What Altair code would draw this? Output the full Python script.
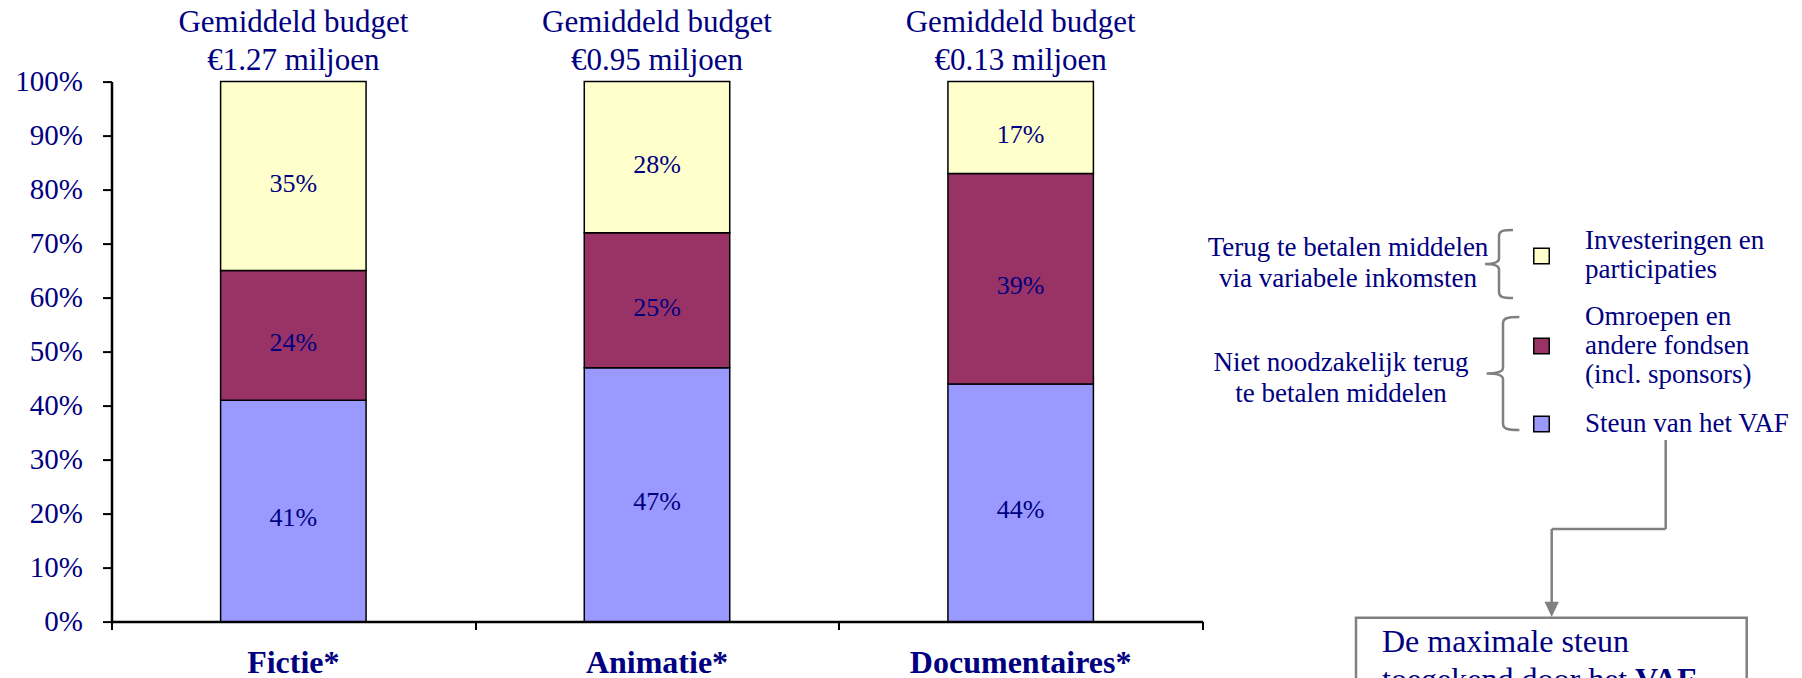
import altair as alt
import pandas as pd

# ---------------- data ----------------
categories = ["Fictie*", "Animatie*", "Documentaires*"]
budgets = [1.27, 0.95, 0.13]  # gemiddeld budget, miljoen euro

series = [
    "Investeringen en participaties",
    "Omroepen en andere fondsen (incl. sponsors)",
    "Steun van het VAF",
]
series_lines = [
    ["Investeringen en", "participaties"],
    ["Omroepen en", "andere fondsen", "(incl. sponsors)"],
    ["Steun van het VAF"],
]
series_colors = ["#FFFFCC", "#993366", "#9999FF"]

steun = [41, 47, 44]
omroepen = [24, 25, 39]
investeringen = [35, 28, 17]

y_ticks = [0, 10, 20, 30, 40, 50, 60, 70, 80, 90, 100]

group_labels = [
    ["Terug te betalen middelen", "via variabele inkomsten"],
    ["Niet noodzakelijk terug", "te betalen middelen"],
]
box_line1 = "De maximale steun"
box_line2 = "toegekend door het"
box_bold = "VAF"

# ---------------- tables ----------------
stack_order = [steun, omroepen, investeringen]
stack_names = [series[2], series[1], series[0]]
rows = []
for i, c in enumerate(categories):
    for k, (name, vals) in enumerate(zip(stack_names, stack_order)):
        rows.append({"category": c, "idx": i, "series": name, "k": k, "value": vals[i]})
df = pd.DataFrame(rows)
cat_df = pd.DataFrame({"category": categories, "idx": range(len(categories)), "budget": budgets})
one = pd.DataFrame({"a": [0]})

NAVY = "#000080"
GRAY = "#808080"
FONT = "Liberation Serif"

W, H = 1091, 540

xscale = alt.Scale(domain=[0, len(categories)], nice=False, zero=False)
yscale = alt.Scale(domain=[0, 100], nice=False)
cscale = alt.Scale(domain=series, range=series_colors)

xaxis = alt.Axis(values=list(range(len(categories) + 1)), labels=False, title=None, grid=False,
                 tickSize=8, tickWidth=2, tickColor="black", domainColor="black", domainWidth=2.5)
yaxis = alt.Axis(values=y_ticks, labelExpr="datum.value + '%'", title=None, grid=False,
                 labelFont=FONT, labelFontSize=29, labelColor=NAVY, labelPadding=20,
                 tickSize=9, tickWidth=2, tickColor="black", domainColor="black", domainWidth=2.5)

base = alt.Chart(df).transform_stack(
    stack="value", as_=["y0", "y1"], groupby=["category"], sort=[alt.SortField("k", order="ascending")]
).transform_calculate(x0="datum.idx + 0.3", x1="datum.idx + 0.7", pos="datum.idx + 0.5",
                      mid="(datum.y0 + datum.y1) / 2", label="datum.value + '%'")

bars = base.mark_bar(stroke="black", strokeWidth=1.5).encode(
    x=alt.X("x0:Q", scale=xscale, axis=xaxis),
    x2="x1:Q",
    y=alt.Y("y0:Q", scale=yscale, axis=yaxis),
    y2="y1:Q",
    color=alt.Color("series:N", scale=cscale, legend=None),
)

bar_text = base.mark_text(font=FONT, fontSize=26, color=NAVY, baseline="middle", dy=7.5).encode(
    x=alt.X("pos:Q", scale=xscale, axis=xaxis),
    y=alt.Y("mid:Q", scale=yscale, axis=yaxis),
    text=alt.Text("label:N"),
)

cat_base = alt.Chart(cat_df).transform_calculate(pos="datum.idx + 0.5")
cat_text = cat_base.mark_text(font=FONT, fontSize=32, fontWeight="bold", color=NAVY,
                              baseline="alphabetic").encode(
    x=alt.X("pos:Q", scale=xscale, axis=xaxis),
    y=alt.value(591.4),
    text="category:N",
)
title_text = cat_base.transform_calculate(
    lines="['Gemiddeld budget', '\u20ac' + format(datum.budget, '.2f') + ' miljoen']"
).mark_text(font=FONT, fontSize=31, color=NAVY, baseline="alphabetic", lineHeight=38.5).encode(
    x=alt.X("pos:Q", scale=xscale, axis=xaxis),
    y=alt.value(-50),
    text="lines:N",
)

# ---------------- legend (manual, colours from the shared scale) ----------------
ann = []
sym_y = [174.4, 264.4, 342.4]
lab_y = [159.7, 235.6, 342.4]
for name, lines, sy, ly in zip(series, series_lines, sym_y, lab_y):
    sdf = pd.DataFrame({"series": [name]})
    ann.append(alt.Chart(sdf).mark_square(size=240, stroke="black", strokeWidth=1.5, opacity=1)
               .encode(x=alt.value(1430), y=alt.value(sy),
                       color=alt.Color("series:N", scale=cscale, legend=None)))
    ann.append(alt.Chart(sdf).mark_text(text=lines, font=FONT, fontSize=27, color=NAVY, align="left",
                                        baseline="middle", lineHeight=29)
               .encode(x=alt.value(1473.5), y=alt.value(ly)))

group_pos = [(1236.5, 174.4), (1229.5, 289.4)]
for lines, (gx, gy) in zip(group_labels, group_pos):
    ann.append(alt.Chart(one).mark_text(text=lines, font=FONT, fontSize=27, color=NAVY, align="center",
                                        baseline="alphabetic", lineHeight=31)
               .encode(x=alt.value(gx), y=alt.value(gy)))

brace_top = "M 0.41 -1 C 0.1 -1 0 -0.97 0 -0.82 L 0 -0.16 C 0 -0.05 -0.15 0 -0.41 0 C -0.15 0 0 0.05 0 0.16 L 0 0.82 C 0 0.97 0.1 1 0.41 1"
brace_bot = "M 0.29 -1 C 0.07 -1 0 -0.98 0 -0.88 L 0 -0.1 C 0 -0.03 -0.1 0 -0.29 0 C -0.1 0 0 0.03 0 0.1 L 0 0.88 C 0 0.98 0.07 1 0.29 1"
ann.append(alt.Chart(one).mark_point(shape=brace_top, filled=False, stroke=GRAY, strokeWidth=2.5,
                                     size=4624, opacity=1).encode(x=alt.value(1387.5), y=alt.value(182.4)))
ann.append(alt.Chart(one).mark_point(shape=brace_bot, filled=False, stroke=GRAY, strokeWidth=2.5,
                                     size=12769, opacity=1).encode(x=alt.value(1391.5), y=alt.value(291.9)))

# connector arrow
for (xa, xb, ya, yb) in [(1554.2, 1554.2, 358.4, 447.4), (1440.2, 1554.2, 447.4, 447.4),
                         (1440.2, 1440.2, 447.4, 522)]:
    ann.append(alt.Chart(one).mark_rule(color=GRAY, strokeWidth=2.5)
               .encode(x=alt.value(xa), x2=alt.value(xb), y=alt.value(ya), y2=alt.value(yb)))
ann.append(alt.Chart(one).mark_point(shape="M 0 1 L -0.94 -1 L 0.94 -1 Z", filled=True, fill=GRAY,
                                     strokeWidth=0, size=234, opacity=1)
           .encode(x=alt.value(1440.2), y=alt.value(527.8)))

# box
ann.append(alt.Chart(one).mark_rect(fill="white", stroke=GRAY, strokeWidth=2.5)
           .encode(x=alt.value(1244.5), x2=alt.value(1635.2), y=alt.value(536.1), y2=alt.value(680)))
ann.append(alt.Chart(one).mark_text(text=box_line1, font=FONT, fontSize=32, color=NAVY, align="left",
                                    baseline="alphabetic").encode(x=alt.value(1270.5), y=alt.value(570.4)))
ann.append(alt.Chart(one).mark_text(text=box_line2, font=FONT, fontSize=32, color=NAVY, align="left",
                                    baseline="alphabetic").encode(x=alt.value(1270.5), y=alt.value(608.4)))
ann.append(alt.Chart(one).mark_text(text=box_bold, font=FONT, fontSize=32, fontWeight="bold", color=NAVY,
                                    align="left", baseline="alphabetic")
           .encode(x=alt.value(1523.5), y=alt.value(608.4)))

chart = alt.layer(bars, bar_text, cat_text, title_text, *ann).properties(
    width=W, height=H,
    padding={"left": 103.5, "top": 73.6, "right": 591.5, "bottom": 86.4},
    autosize=alt.AutoSizeParams(type="none"),
).configure_view(stroke=None)

chart.save("out.html", embed_options={"renderer": "svg", "actions": False})
